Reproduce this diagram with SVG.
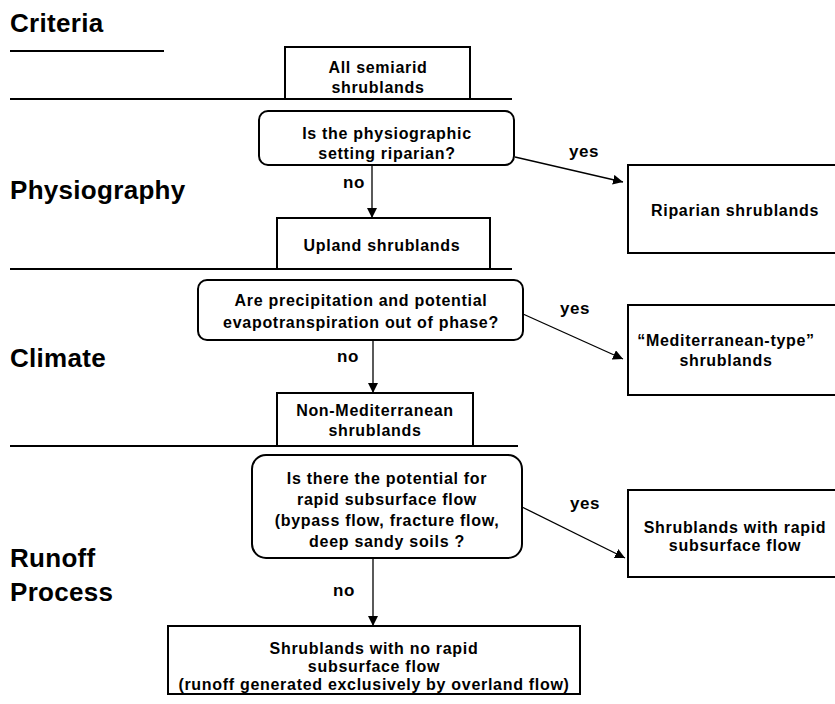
<svg xmlns="http://www.w3.org/2000/svg" width="835" height="704" viewBox="0 0 835 704">
<style>
text{font-family:"Liberation Sans",Arial,sans-serif;font-weight:bold;fill:#000}
.h{font-size:26px;letter-spacing:0.3px}
.t{font-size:16px;letter-spacing:0.7px;text-anchor:middle}
.l{font-size:17px;letter-spacing:0.5px}
.box{fill:#fff;stroke:#000;stroke-width:2}
.sep{stroke:#000;stroke-width:2.2}
.c{stroke:#000;stroke-width:1.3;fill:none}
</style>
<defs>
<marker id="ah" markerWidth="10" markerHeight="10" refX="10" refY="5" orient="auto" markerUnits="userSpaceOnUse">
<path d="M0,0 L10,5 L0,10 Z" fill="#000"/>
</marker>
</defs>
<g id="headings">
<text class="h" x="10" y="32">Criteria</text>
<line class="sep" x1="10" y1="51" x2="164" y2="51"/>
<text class="h" x="10" y="199">Physiography</text>
<text class="h" x="10" y="367">Climate</text>
<text class="h" x="10" y="567">Runoff</text>
<text class="h" x="10" y="601">Process</text>
</g>
<g id="separators">
<line class="sep" x1="10" y1="99" x2="512" y2="99"/>
<line class="sep" x1="10" y1="269" x2="512" y2="269"/>
<line class="sep" x1="10" y1="446" x2="518" y2="446"/>
</g>
<g id="connectors">
<line class="c" x1="372" y1="165" x2="372" y2="218" marker-end="url(#ah)"/>
<text class="l" x="343" y="188">no</text>
<line class="c" x1="515" y1="157" x2="623" y2="182" marker-end="url(#ah)"/>
<text class="l" x="569" y="157">yes</text>
<line class="c" x1="373" y1="340" x2="373" y2="393" marker-end="url(#ah)"/>
<text class="l" x="337" y="362">no</text>
<line class="c" x1="523" y1="314" x2="623" y2="359" marker-end="url(#ah)"/>
<text class="l" x="560" y="314">yes</text>
<line class="c" x1="373" y1="558" x2="373" y2="626" marker-end="url(#ah)"/>
<text class="l" x="333" y="596">no</text>
<line class="c" x1="522" y1="507" x2="625" y2="558" marker-end="url(#ah)"/>
<text class="l" x="570" y="509">yes</text>
</g>
<g id="n-all">
<rect class="box" x="285" y="47" width="185" height="52"/>
<text class="t" x="378" y="73">All semiarid</text>
<text class="t" x="378" y="93">shrublands</text>
</g>
<g id="n-q1">
<rect class="box" x="259" y="111" width="255" height="54" rx="9"/>
<text class="t" x="387" y="139">Is the physiographic</text>
<text class="t" x="387" y="159">setting riparian?</text>
</g>
<g id="n-riparian">
<rect class="box" x="628" y="165" width="215" height="88"/>
<text class="t" x="735" y="216">Riparian shrublands</text>
</g>
<g id="n-upland">
<rect class="box" x="277" y="218" width="213" height="51"/>
<text class="t" x="382" y="251">Upland shrublands</text>
</g>
<g id="n-q2">
<rect class="box" x="198" y="280" width="325" height="60" rx="9"/>
<text class="t" x="361" y="306">Are precipitation and potential</text>
<text class="t" x="361" y="328">evapotranspiration out of phase?</text>
</g>
<g id="n-med">
<rect class="box" x="628" y="305" width="215" height="90"/>
<text class="t" x="726" y="346">“Mediterranean-type”</text>
<text class="t" x="726" y="366">shrublands</text>
</g>
<g id="n-nonmed">
<rect class="box" x="277" y="393" width="196" height="53"/>
<text class="t" x="375" y="416">Non-Mediterranean</text>
<text class="t" x="375" y="436">shrublands</text>
</g>
<g id="n-q3">
<rect class="box" x="252" y="455" width="270" height="103" rx="14"/>
<text class="t" x="387" y="484">Is there the potential for</text>
<text class="t" x="387" y="505">rapid subsurface flow</text>
<text class="t" x="387" y="526">(bypass flow, fracture flow,</text>
<text class="t" x="387" y="547">deep sandy soils ?</text>
</g>
<g id="n-rapid">
<rect class="box" x="628" y="490" width="215" height="87"/>
<text class="t" x="735" y="533">Shrublands with rapid</text>
<text class="t" x="735" y="551">subsurface flow</text>
</g>
<g id="n-norapid">
<rect class="box" x="168" y="626" width="412" height="68"/>
<text class="t" x="374" y="654">Shrublands with no rapid</text>
<text class="t" x="374" y="672">subsurface flow</text>
<text class="t" x="374" y="690">(runoff generated exclusively by overland flow)</text>
</g>
</svg>
